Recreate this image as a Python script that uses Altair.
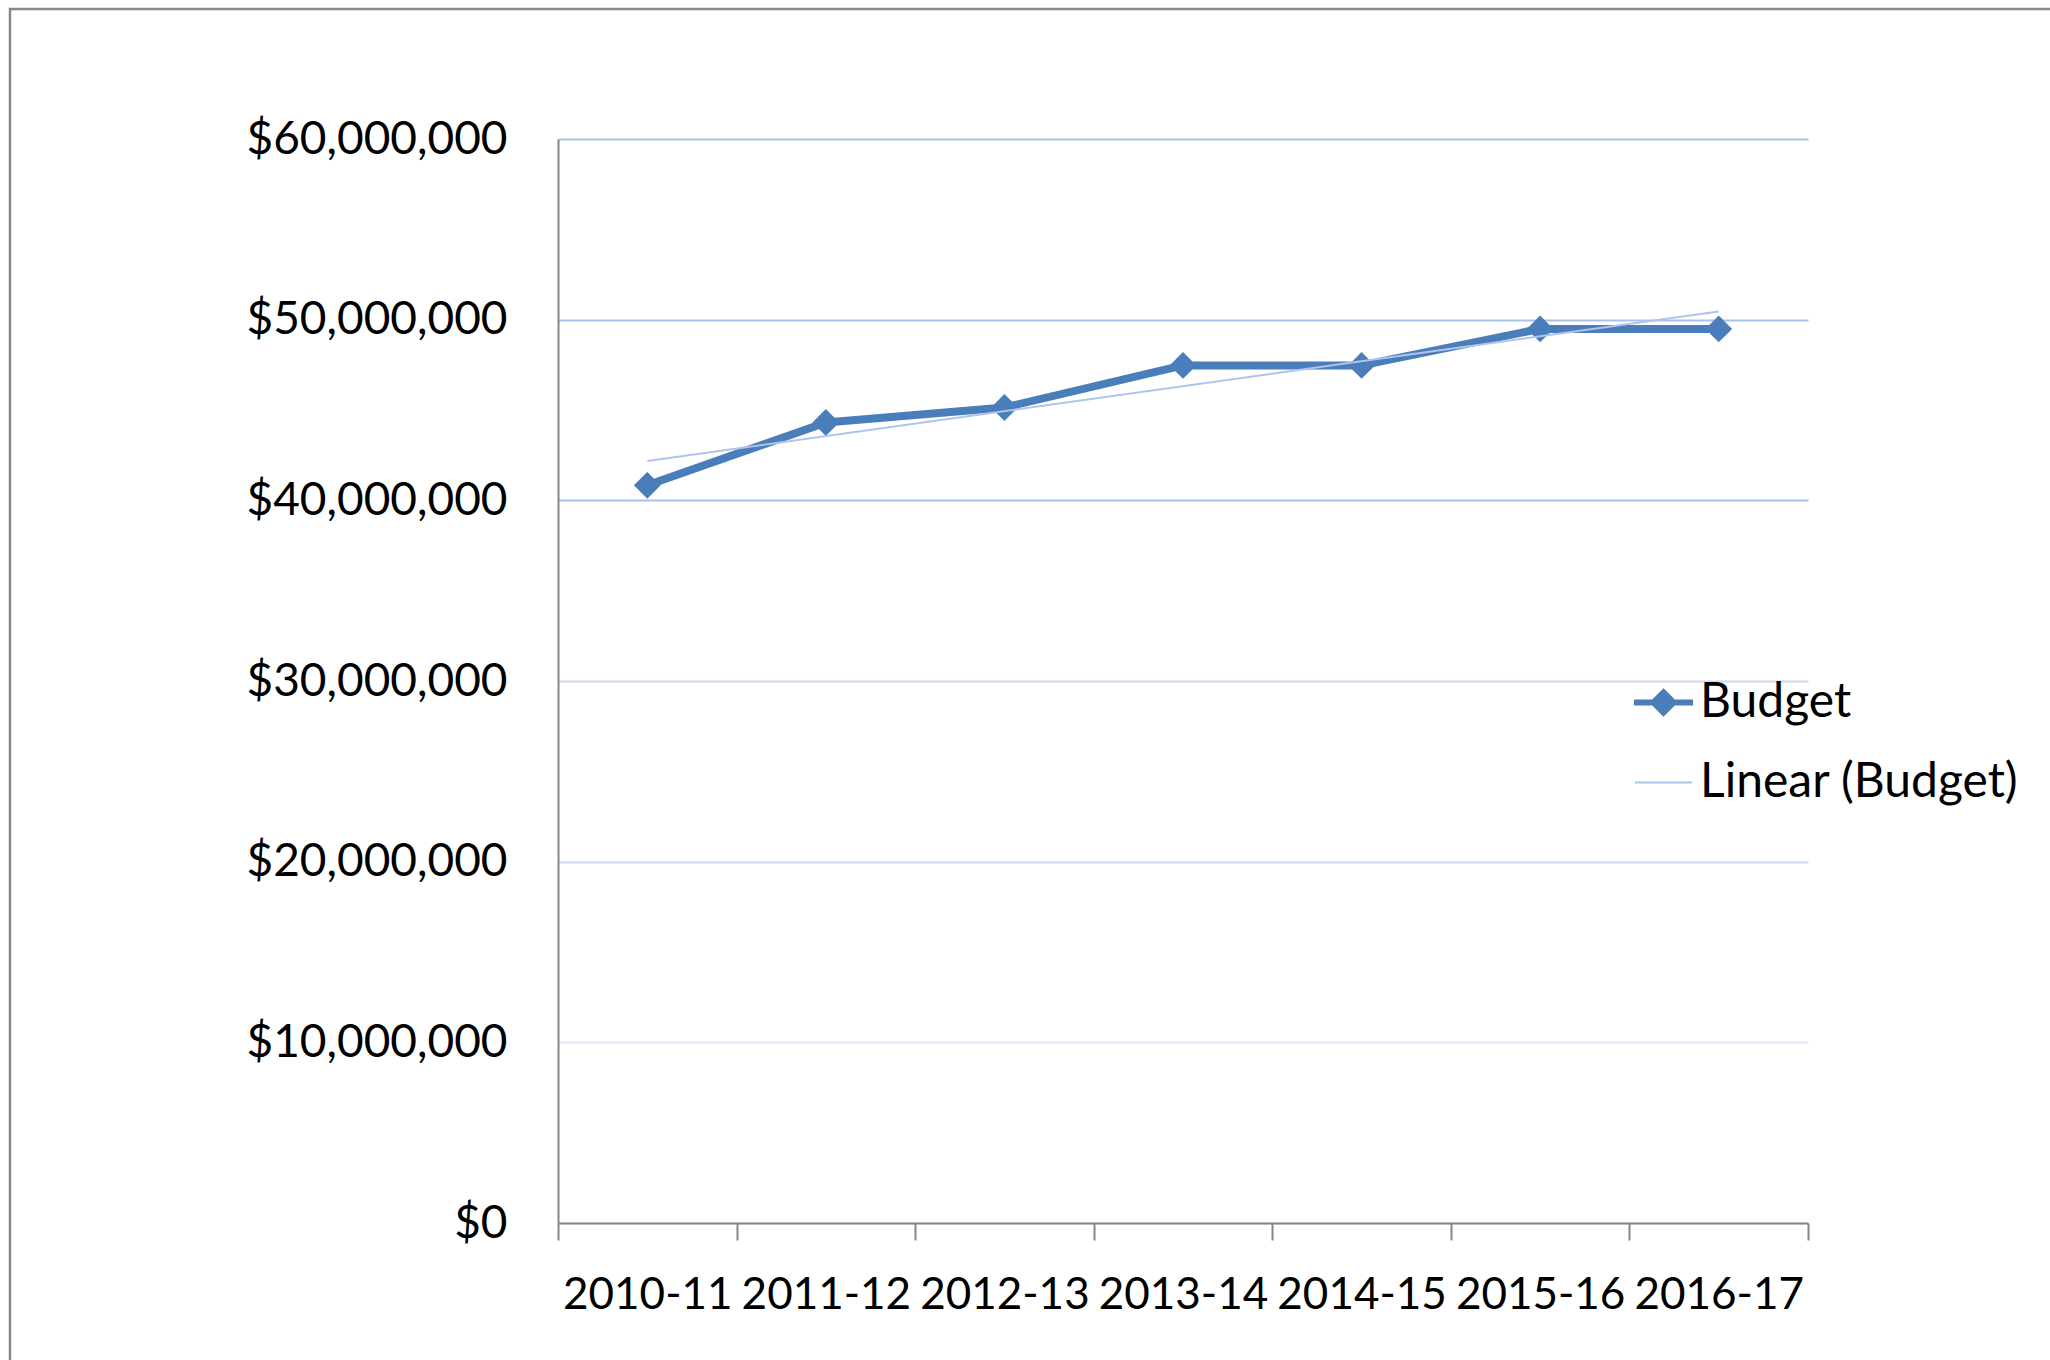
import json

import altair as alt
import pandas as pd

# Budget by financial year
years = ["2010-11", "2011-12", "2012-13", "2013-14", "2014-15", "2015-16", "2016-17"]
budget = [40830000, 44310000, 45140000, 47470000, 47470000, 49490000, 49490000]
y_ticks = [0, 10000000, 20000000, 30000000, 40000000, 50000000, 60000000]

df = pd.DataFrame({"year": years, "idx": list(range(len(years))), "value": budget})

W, H = 1250, 1084
BAND = W / len(years)
FONT = "Lato"
BLUE = "#4A7EBB"
TREND = "#AEC4EA"
AXIS_GRAY = "#868686"

# category labels sit halfway between the boundary ticks
year_array = json.dumps(years)
label_expr = f"datum.value < {len(years) - 1} ? {year_array}[round(datum.value + 0.5)] : ''"

x_enc = alt.X(
    "idx:Q",
    scale=alt.Scale(domain=[-0.5, len(years) - 0.5], nice=False, zero=False),
    axis=alt.Axis(
        values=[i - 0.5 for i in range(len(years) + 1)],
        labelExpr=label_expr,
        labelOffset=BAND / 2,
        title=None,
        grid=False,
        domainColor=AXIS_GRAY,
        domainWidth=2,
        tickColor=AXIS_GRAY,
        tickWidth=2,
        tickSize=17,
        labelFont=FONT,
        labelFontSize=44,
        labelColor="black",
        labelBaseline="alphabetic",
        labelPadding=68,
        labelOverlap=False,
        labelFlush=False,
        labelBound=False,
        labelLimit=0,
    ),
)

y_enc = alt.Y(
    "value:Q",
    scale=alt.Scale(domain=[0, 60000000], nice=False),
    axis=alt.Axis(
        values=y_ticks,
        format="$,.0f",
        title=None,
        ticks=False,
        domainColor=AXIS_GRAY,
        domainWidth=2,
        gridColor={
            "condition": [
                {"test": "datum.value >= 40000000", "value": "#ABC2E8"},
                {"test": "datum.value >= 20000000", "value": "#C9D8F0"},
            ],
            "value": "#DDE6F4",
        },
        gridWidth=2,
        labelFont=FONT,
        labelFontSize=46,
        labelColor="black",
        labelPadding=51,
        labelLimit=0,
    ),
)

# outer chart frame (left and top edges fall inside the page)
frame = alt.Chart(pd.DataFrame({"frame": [0]})).mark_rect(
    filled=False, stroke="#878787", strokeWidth=2.5, clip=False
).encode(
    x=alt.value(-548), x2=alt.value(W + 400),
    y=alt.value(-130), y2=alt.value(H + 400),
)

budget_line = alt.Chart(df).transform_calculate(
    series="'Budget'"
).mark_line(
    strokeWidth=8,
    strokeCap="round",
    strokeJoin="round",
    point=alt.OverlayMarkDef(shape="diamond", size=720, filled=True),
).encode(
    x=x_enc,
    y=y_enc,
    color=alt.Color(
        "series:N",
        scale=alt.Scale(domain=["Budget"], range=[BLUE]),
        legend=alt.Legend(
            title=None,
            orient="none",
            legendX=1073,
            legendY=531,
            padding=0,
            symbolType="M-1,0L1,0M0,-0.34L0.34,0L0,0.34L-0.34,0Z",
            symbolSize=3481,
            symbolStrokeWidth=6,
            symbolFillColor=BLUE,
            symbolStrokeColor=BLUE,
            symbolOpacity=1,
            labelFont=FONT,
            labelFontSize=48,
            labelColor="black",
            labelOffset=4,
            labelLimit=0,
        ),
    ),
)

trend_line = alt.Chart(df).transform_regression(
    "idx", "value", method="linear"
).transform_calculate(
    series="'Linear (Budget)'"
).mark_line(strokeWidth=2).encode(
    x=alt.X("idx:Q"),
    y=alt.Y("value:Q"),
    color=alt.Color(
        "series:N",
        scale=alt.Scale(domain=["Linear (Budget)"], range=[TREND]),
        legend=alt.Legend(
            title=None,
            orient="none",
            legendX=1076,
            legendY=614,
            padding=0,
            symbolType="stroke",
            symbolSize=3249,
            symbolStrokeWidth=2,
            symbolStrokeColor=TREND,
            symbolOpacity=1,
            labelFont=FONT,
            labelFontSize=48,
            labelColor="black",
            labelOffset=7,
            labelLimit=0,
        ),
    ),
)

chart = alt.layer(frame, budget_line, trend_line).resolve_scale(
    color="independent"
).properties(
    width=W,
    height=H,
    autosize=alt.AutoSizeParams(type="none"),
    padding={"left": 558, "top": 139, "right": 242, "bottom": 137},
    background="white",
).configure_view(stroke=None)

chart.save("out.html", embed_options={"renderer": "svg", "actions": False})
